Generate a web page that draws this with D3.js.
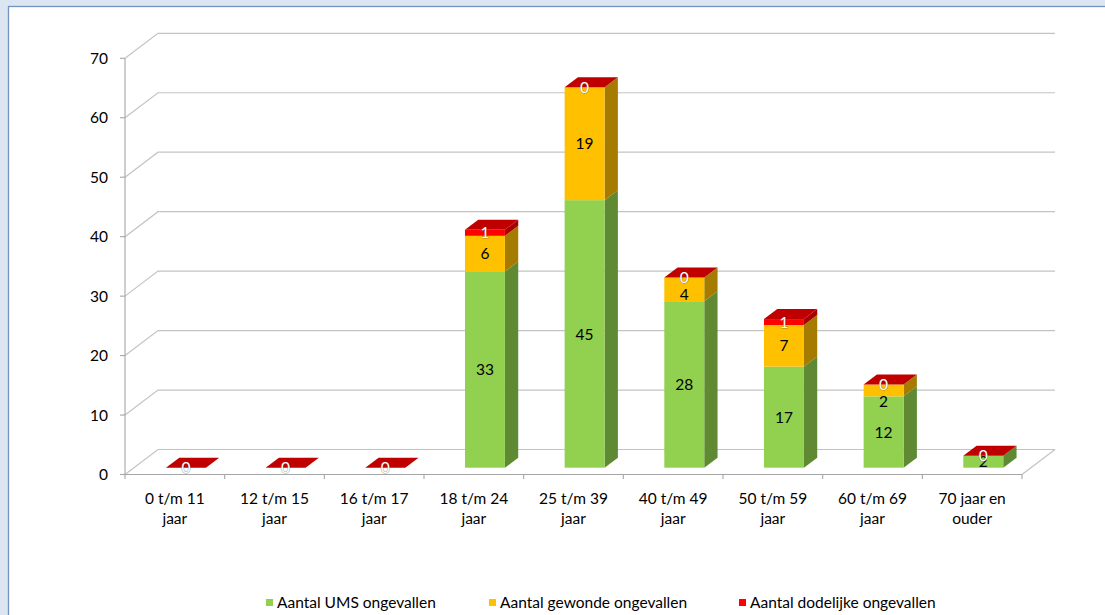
<!DOCTYPE html>
<html>
<head>
<meta charset="utf-8">
<script src="https://cdn.jsdelivr.net/npm/d3@7"></script>
<style>
  html, body { margin: 0; padding: 0; background: #dce6f2; }
  svg { display: block; }
  text { font-family: Lato, "Open Sans", sans-serif; }
</style>
</head>
<body>
<svg id="chart" width="1105" height="615"></svg>
<script>
// Age groups (two-line labels) and the three stacked series
const categories = [
  "0 t/m 11\njaar", "12 t/m 15\njaar", "16 t/m 17\njaar", "18 t/m 24\njaar",
  "25 t/m 39\njaar", "40 t/m 49\njaar", "50 t/m 59\njaar", "60 t/m 69\njaar",
  "70 jaar en\nouder"
];
const umsValues       = [0, 0, 0, 33, 45, 28, 17, 12, 2];
const gewondeValues   = [0, 0, 0, 6, 19, 4, 7, 2, 0];
const dodelijkeValues = [0, 0, 0, 1, 0, 0, 1, 0, 0];
const seriesNames = ["Aantal UMS ongevallen", "Aantal gewonde ongevallen", "Aantal dodelijke ongevallen"];
const yTicks = [0, 10, 20, 30, 40, 50, 60, 70];

// Face colours per series: front, side, top
const palette = [
  { front: "#92d050", side: "#5f8a33", top: "#76a83c", label: "#000", showZero: false },
  { front: "#ffc000", side: "#a67c00", top: "#d9a300", label: "#000", showZero: false },
  { front: "#ff0000", side: "#a80000", top: "#c00000", label: "#fff", showZero: true }
];

const FONT = 15.5;
const svg = d3.select("#chart");

// Chart area panel
svg.append("rect")
  .attr("x", 8.5).attr("y", 6.5).attr("width", 1110).attr("height", 620)
  .attr("fill", "#fff").attr("stroke", "#7393c2").attr("stroke-width", 1.3);

// Plot geometry (front plane + depth offset of the back wall)
const left = 125, right = 1022;
const depthX = 33, depthY = -25;
const x = d3.scaleBand().domain(d3.range(categories.length)).range([left, right]);
const y = d3.scaleLinear().domain([0, 70]).range([474.5, 58.3]);
const grid = "#c3c3c3";

// Back-wall gridlines with their diagonal on the side wall
const gridG = svg.append("g").attr("fill", "none").attr("stroke", grid).attr("stroke-width", 1.2);
gridG.selectAll("path.grid").data(yTicks).join("path")
  .attr("class", "grid")
  .attr("d", t => `M${left},${y(t)}L${left + depthX},${y(t) + depthY}L${right + depthX},${y(t) + depthY}`);
// Right edge of the floor
gridG.append("path")
  .attr("d", `M${right},${y(0)}L${right + depthX},${y(0) + depthY}`);

// Value axis
const axisG = svg.append("g").attr("fill", "none").attr("stroke", "#a6a6a6").attr("stroke-width", 1.1);
axisG.append("path").attr("d", `M${left},${y(70)}V${y(0)}`);
axisG.selectAll("path.yt").data(yTicks).join("path")
  .attr("class", "yt").attr("d", t => `M${left - 5},${y(t)}H${left}`);
svg.append("g").selectAll("text").data(yTicks).join("text")
  .attr("x", 108).attr("y", t => y(t)).attr("dy", "0.36em")
  .attr("text-anchor", "end").attr("font-size", FONT).attr("fill", "#000")
  .text(d => d);

// Category axis along the front edge of the floor
axisG.append("path").attr("d", `M${left},${y(0)}H${right}`);
const edges = d3.range(categories.length + 1).map(i => left + i * x.bandwidth());
axisG.selectAll("path.xt").data(edges).join("path")
  .attr("class", "xt").attr("d", e => `M${e},${y(0)}V${y(0) + 4.5}`);

const catG = svg.append("g").selectAll("text").data(categories).join("text")
  .attr("text-anchor", "middle").attr("font-size", FONT).attr("fill", "#000");
catG.selectAll("tspan").data((d, i) => d.split("\n").map(s => ({ s, i }))).join("tspan")
  .attr("x", d => x(d.i) + x.bandwidth() / 2)
  .attr("y", (d, j) => 503.5 + j * 20)
  .text(d => d.s);

// Stacked 3D columns
const table = categories.map((c, i) => ({ i, ums: umsValues[i], gew: gewondeValues[i], dod: dodelijkeValues[i] }));
const stack = d3.stack().keys(["ums", "gew", "dod"])(table);

const bw = x.bandwidth();
const barOff = 0.411 * bw, barW = 0.401 * bw;
const sideX = 13.3, sideY = -10;
const floorShift = -6.8;           // bars stand a little behind the front edge
const yb = v => y(v) + floorShift;

const barsG = svg.append("g");
stack.forEach((layer, k) => {
  const col = palette[k];
  layer.forEach((seg, i) => {
    const x0 = x(i) + barOff, x1 = x0 + barW;
    const yLo = yb(seg[0]), yHi = yb(seg[1]);
    if (seg[1] > seg[0]) {
      barsG.append("path").attr("fill", col.side)
        .attr("d", `M${x1},${yLo}L${x1},${yHi}L${x1 + sideX},${yHi + sideY}L${x1 + sideX},${yLo + sideY}Z`);
      barsG.append("rect").attr("fill", col.front)
        .attr("x", x0).attr("y", yHi).attr("width", barW).attr("height", yLo - yHi);
    }
    if (k === stack.length - 1) {
      barsG.append("path").attr("fill", col.top)
        .attr("d", `M${x0},${yHi}L${x1},${yHi}L${x1 + sideX},${yHi + sideY}L${x0 + sideX},${yHi + sideY}Z`);
    }
  });
});

// Data labels, centred on each front face; a middle label is nudged down
// when it would collide with the top label
const labelsG = svg.append("g").attr("font-size", FONT).attr("text-anchor", "middle");
table.forEach((row, i) => {
  const cx = x(i) + barOff + barW / 2;
  const topSeg = stack[2][i];
  const topCy = yb((topSeg[0] + topSeg[1]) / 2);
  stack.forEach((layer, k) => {
    const seg = layer[i];
    const v = seg[1] - seg[0];
    const col = palette[k];
    if (v === 0 && !col.showZero) return;
    let cy = yb((seg[0] + seg[1]) / 2);
    if (k === 1 && cy - topCy < 17) cy = topCy + 17;
    const t = labelsG.append("text")
      .attr("x", cx).attr("y", cy).attr("dy", "0.36em")
      .attr("fill", col.label).text(v);
    if (k === 2) {
      t.attr("stroke", "rgba(60,60,60,0.45)").attr("stroke-width", 1.1)
        .attr("paint-order", "stroke");
    }
  });
});

// Legend
const legendX = [266, 489, 739];
const legG = svg.append("g");
seriesNames.forEach((name, k) => {
  legG.append("rect").attr("x", legendX[k]).attr("y", 599).attr("width", 7).attr("height", 7)
    .attr("fill", palette[k].front);
  legG.append("text").attr("x", legendX[k] + 11).attr("y", 607.5)
    .attr("font-size", FONT).attr("fill", "#000").text(name);
});
</script>
</body>
</html>
